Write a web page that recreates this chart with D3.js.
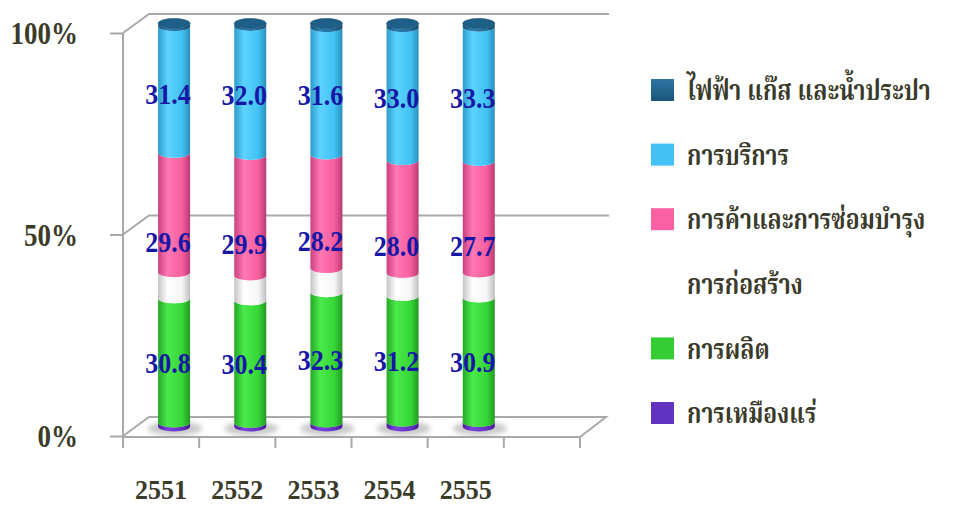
<!DOCTYPE html>
<html>
<head>
<meta charset="utf-8">
<script src="https://cdn.jsdelivr.net/npm/d3@7/dist/d3.min.js"></script>
<style>
  html, body { margin: 0; padding: 0; background: #ffffff; }
  svg { display: block; }
</style>
</head>
<body>
<svg id="chart" width="953" height="507"></svg>
<script>
// Share of each sector (%) by year, stacked to 100%
const years = ["2551", "2552", "2553", "2554", "2555"];
const slots = [...years, ""];            // one spare slot on the category axis
const mining        = [1.0, 0.9, 1.0, 1.2, 1.1];
const manufacturing = [30.8, 30.4, 32.3, 31.2, 30.9];
const construction  = [6.5, 6.2, 6.0, 5.7, 6.2];
const trade         = [29.6, 29.9, 28.2, 28.0, 27.7];
const services      = [31.4, 32.0, 31.6, 33.0, 33.3];
const utilities     = [0.7, 0.6, 0.9, 0.9, 0.8];
const yTicks = [0, 0.5, 1];

const seriesKeys = ["mining", "manufacturing", "construction", "trade", "services", "utilities"];
const seriesLabels = {
  utilities: "ไฟฟ้า แก๊ส และน้ำประปา",
  services: "การบริการ",
  trade: "การค้าและการซ่อมบำรุง",
  construction: "การก่อสร้าง",
  manufacturing: "การผลิต",
  mining: "การเหมืองแร่"
};
const labelledSeries = ["manufacturing", "trade", "services"];

const rows = years.map((y, i) => ({
  year: y,
  mining: mining[i], manufacturing: manufacturing[i], construction: construction[i],
  trade: trade[i], services: services[i], utilities: utilities[i]
}));

// colour ramps across the cylinder face: [edge, highlight, body, far edge]
const palette = {
  utilities:     { ramp: ["#174f73", "#2a7fb0", "#226c99", "#154766"], cap: "#1d5f86", swatch: "#22638e" },
  services:      { ramp: ["#2b9ccc", "#5dd3ff", "#40c2f4", "#2a8fbb"], cap: "#3ec0f2", swatch: "#44c2f6" },
  trade:         { ramp: ["#c8417c", "#ff78b4", "#f75e9e", "#b93a72"], cap: "#f562a0", swatch: "#fb60a2" },
  construction:  { ramp: ["#c4c4c4", "#ffffff", "#f6f6f6", "#bdbdbd"], cap: "#f2f2f2", swatch: null },
  manufacturing: { ramp: ["#25a825", "#4aea4a", "#36d636", "#229a22"], cap: "#3ad83a", swatch: "#34cd34" },
  mining:        { ramp: ["#4d1f9e", "#7a44dc", "#6531c4", "#461b92"], cap: "#6b37cc", swatch: "#6133c0" }
};

const svg = d3.select("#chart");

// 3D layout: front plane, depth shift to the back wall
const depthX = 26, depthY = -19;
const x = d3.scaleBand().domain(slots).range([123, 580]).paddingInner(0).paddingOuter(0);
const yFront = d3.scaleLinear().domain([0, 1]).range([436, 33]);
const yMid = v => yFront(v) + depthY / 2;
const cylR = 16, cylRy = 5;
const cx = d => x(d) + x.bandwidth() / 2 + depthX / 2;

const stacked = d3.stack().keys(seriesKeys).offset(d3.stackOffsetExpand)(rows);

// gradients
const defs = svg.append("defs");
seriesKeys.forEach(k => {
  const g = defs.append("linearGradient").attr("id", "grad-" + k)
    .attr("x1", "0%").attr("x2", "100%").attr("y1", "0%").attr("y2", "0%");
  const r = palette[k].ramp;
  [[0, r[0]], [0.3, r[1]], [0.75, r[2]], [1, r[3]]].forEach(([o, c]) =>
    g.append("stop").attr("offset", o).attr("stop-color", c));
});
defs.append("filter").attr("id", "soft").attr("x", "-50%").attr("y", "-50%").attr("width", "200%").attr("height", "200%")
  .append("feGaussianBlur").attr("stdDeviation", 2.5);
const lgGrad = defs.append("linearGradient").attr("id", "lg-utilities").attr("x1", 0).attr("x2", 0).attr("y1", 0).attr("y2", 1);
lgGrad.append("stop").attr("offset", 0).attr("stop-color", "#2e76a3");
lgGrad.append("stop").attr("offset", 1).attr("stop-color", "#1b5479");

// walls and floor
const lineColor = "#a9a9a9";
const frame = svg.append("g").attr("fill", "none").attr("stroke", lineColor).attr("stroke-width", 2);
const x0 = x.range()[0], x1 = x.range()[1];
// back-wall gridlines and left-wall diagonals
yTicks.filter(t => t > 0).forEach(t => {
  frame.append("path").attr("d",
    `M${x0},${yFront(t)} L${x0 + depthX},${yFront(t) + depthY} L${x1 + depthX + 3},${yFront(t) + depthY}`);
});
// floor outline
frame.append("path").attr("d",
  `M${x0},${yFront(0)} L${x0 + depthX},${yFront(0) + depthY} L${x1 + depthX},${yFront(0) + depthY} ` +
  `L${x1},${yFront(0) + 1} L${x0},${yFront(0) + 1}`);
// left wall front edge
frame.append("line").attr("x1", x0).attr("x2", x0).attr("y1", yFront(1)).attr("y2", yFront(0) + 12);

// y axis ticks and labels
const yAxis = d3.axisLeft(yFront).tickValues(yTicks).tickFormat(d3.format(".0%"))
  .tickSizeInner(13).tickSizeOuter(0).tickPadding(32);
const yG = svg.append("g").attr("transform", `translate(${x0},0)`).call(yAxis);
yG.select(".domain").remove();
yG.selectAll(".tick line").attr("stroke", lineColor).attr("stroke-width", 2);
yG.selectAll(".tick text")
  .attr("font-family", "'Liberation Serif', 'Times New Roman', serif")
  .attr("font-weight", "bold").attr("font-size", 27).attr("fill", "#3b3b2a")
  .attr("dy", "0.34em").attr("transform", "scale(1,1.15)");

// x axis: boundary ticks and centred labels
const xg = svg.append("g");
xg.selectAll("line.xt").data(slots.concat(["__end"])).join("line")
  .attr("x1", (d, i) => i < slots.length ? x(d) : x1)
  .attr("x2", (d, i) => i < slots.length ? x(d) : x1)
  .attr("y1", yFront(0) + 1).attr("y2", yFront(0) + 12)
  .attr("stroke", lineColor).attr("stroke-width", 2);
xg.selectAll("text").data(years).join("text")
  .attr("transform", d => `translate(${x(d) + x.bandwidth() / 2},489) scale(1,1.05)`)
  .attr("text-anchor", "middle").attr("dy", "0.35em")
  .attr("font-family", "'Liberation Serif', 'Times New Roman', serif")
  .attr("font-weight", "bold").attr("font-size", 26).attr("fill", "#3b3b2a")
  .text(d => d);

// cylinders
const cyl = svg.append("g");
// floor shadows
cyl.selectAll("ellipse.shadow").data(years).join("ellipse")
  .attr("cx", d => cx(d) + 1).attr("cy", yMid(0) + 2)
  .attr("rx", cylR + 11).attr("ry", cylRy + 2)
  .attr("fill", "#8a8a8a").attr("opacity", 0.45).attr("filter", "url(#soft)");

function segPath(c, yt, yb) {
  return `M${c - cylR},${yt} A${cylR},${cylRy} 0 0 0 ${c + cylR},${yt} L${c + cylR},${yb} ` +
         `A${cylR},${cylRy} 0 0 1 ${c - cylR},${yb} Z`;
}
stacked.forEach(layer => {
  cyl.append("g").selectAll("path").data(layer).join("path")
    .attr("d", d => segPath(cx(d.data.year), yMid(d[1]), yMid(d[0])))
    .attr("fill", `url(#grad-${layer.key})`);
});
// top caps
const topLayer = stacked[stacked.length - 1];
cyl.append("g").selectAll("ellipse").data(topLayer).join("ellipse")
  .attr("cx", d => cx(d.data.year)).attr("cy", d => yMid(d[1]))
  .attr("rx", cylR).attr("ry", cylRy)
  .attr("fill", palette[topLayer.key].cap)
  .attr("stroke", "#174d70").attr("stroke-width", 0.6);

// value labels
const labelNudge = { services: 4, trade: 29, manufacturing: 2 };
const lbl = svg.append("g");
stacked.filter(l => labelledSeries.includes(l.key)).forEach(layer => {
  lbl.append("g").selectAll("text").data(layer).join("text")
    .attr("transform", d => `translate(${cx(d.data.year) - 6},${yMid((d[0] + d[1]) / 2) + labelNudge[layer.key]}) scale(1,1.12)`)
    .attr("text-anchor", "middle").attr("dy", "0.35em")
    .attr("font-family", "'Liberation Serif', 'Times New Roman', serif")
    .attr("font-weight", "bold").attr("font-size", 26).attr("fill", "#1717a6")
    .text(d => d3.format(".1f")(d.data[layer.key]));
});

// legend, listed from the top of the stack down
const legendOrder = seriesKeys.slice().reverse();
const ly = d3.scalePoint().domain(legendOrder).range([90, 413]);
const lg = svg.append("g");
const items = lg.selectAll("g").data(legendOrder).join("g")
  .attr("transform", d => `translate(651,${ly(d)})`);
items.filter(d => palette[d].swatch).append("rect")
  .attr("x", 0).attr("y", -11).attr("width", 23).attr("height", 22)
  .attr("fill", d => d === "utilities" ? "url(#lg-utilities)" : palette[d].swatch);
items.append("text")
  .attr("dy", "0.35em")
  .attr("transform", "translate(36,0) scale(0.88,1.12)")
  .attr("font-family", "'Noto Serif Thai', 'Noto Sans Thai', 'Tlwg Typo', 'Norasi', 'Loma', 'Garuda', serif")
  .attr("font-weight", "bold").attr("font-size", 26).attr("fill", "#3a3a2a")
  .text(d => seriesLabels[d]);
</script>
</body>
</html>
